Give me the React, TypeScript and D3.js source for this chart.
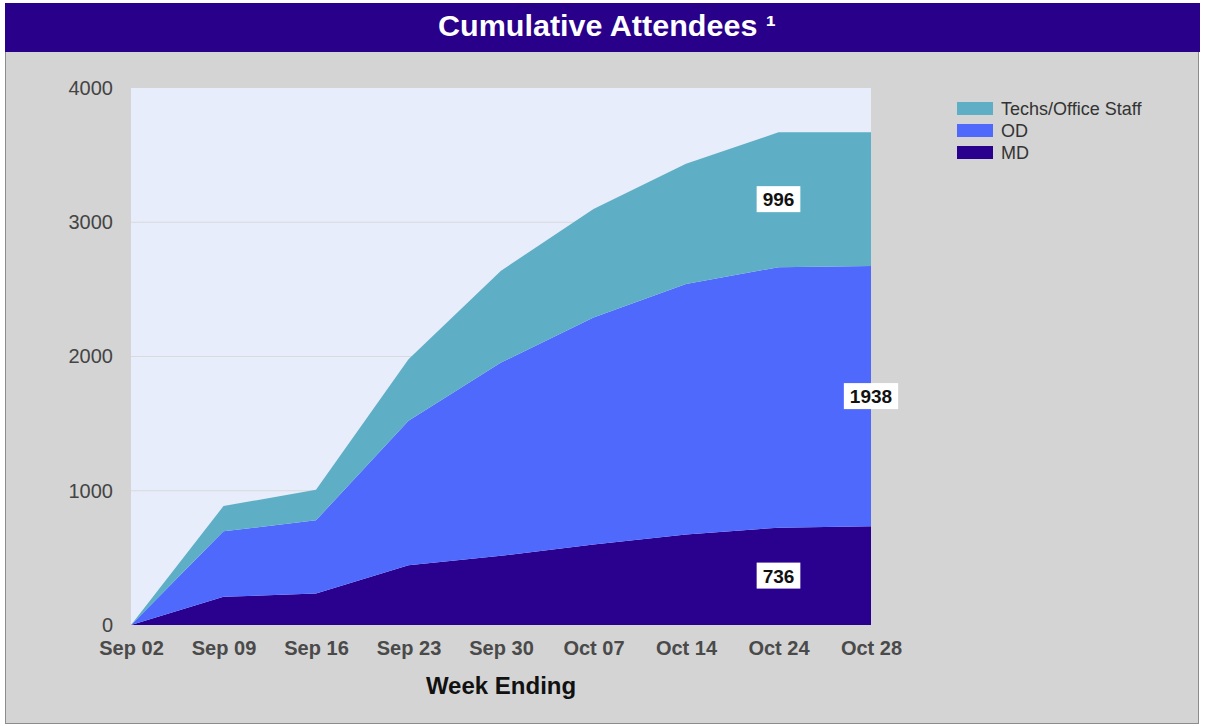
import React, { useEffect, useRef } from 'react';
import * as d3 from 'd3';

const weeks = ['Sep 02', 'Sep 09', 'Sep 16', 'Sep 23', 'Sep 30', 'Oct 07', 'Oct 14', 'Oct 24', 'Oct 28'];
const md = [0, 210, 235, 445, 515, 600, 675, 725, 736];
const od = [0, 488, 545, 1077, 1440, 1690, 1865, 1940, 1938];
const techs = [0, 188, 227, 458, 684, 809, 895, 1005, 996];
const seriesNames = ['MD', 'OD', 'Techs/Office Staff'];
const yTicks = [0, 1000, 2000, 3000, 4000];

const colors = {
  'MD': '#2a008e',
  'OD': '#4f69fd',
  'Techs/Office Staff': '#5eafc5',
};

const App = () => {
  const svgRef = useRef(null);

  useEffect(() => {
    const left = 131, right = 871, top = 88, bottom = 625;

    const svg = d3.select(svgRef.current);
    svg.selectAll('*').remove();

    // frame
    svg.append('rect')
      .attr('x', 5.5).attr('y', 3.5)
      .attr('width', 1193).attr('height', 720)
      .attr('fill', '#d4d4d4')
      .attr('stroke', '#8c8c8c');

    svg.append('rect')
      .attr('x', 5).attr('y', 3)
      .attr('width', 1195).attr('height', 49)
      .attr('fill', '#29008a');

    svg.append('text')
      .attr('x', 607).attr('y', 36)
      .attr('text-anchor', 'middle')
      .attr('fill', '#fff')
      .style('font', 'bold 29px "Liberation Sans", Arial, sans-serif')
      .attr('textLength', 338)
      .attr('lengthAdjust', 'spacingAndGlyphs')
      .text('Cumulative Attendees \u00b9');

    const x = d3.scalePoint().domain(weeks).range([left, right]);
    const y = d3.scaleLinear().domain([0, 4000]).range([bottom, top]);

    svg.append('rect')
      .attr('x', left).attr('y', top)
      .attr('width', right - left).attr('height', bottom - top)
      .attr('fill', '#e7edfa');

    svg.append('g')
      .selectAll('line')
      .data(yTicks.slice(1, -1))
      .enter()
      .append('line')
      .attr('x1', left).attr('x2', right)
      .attr('y1', d => y(d)).attr('y2', d => y(d))
      .attr('stroke', '#d9d9de');

    const rows = weeks.map((w, i) => ({ week: w, 'MD': md[i], 'OD': od[i], 'Techs/Office Staff': techs[i] }));
    const stack = d3.stack().keys(seriesNames);
    const layers = stack(rows);

    const area = d3.area()
      .x(d => x(d.data.week))
      .y0(d => y(d[0]))
      .y1(d => y(d[1]));

    svg.append('g')
      .selectAll('path')
      .data(layers)
      .enter()
      .append('path')
      .attr('d', area)
      .attr('fill', d => colors[d.key]);

    // value labels
    const labelSpots = [
      { key: 'MD', at: 7 },
      { key: 'OD', at: 8 },
      { key: 'Techs/Office Staff', at: 7 },
    ];
    const last = weeks.length - 1;
    labelSpots.forEach(s => {
      const layer = layers.find(l => l.key === s.key);
      const p = layer[last];
      const cx = x(weeks[s.at]);
      const cy = y((p[0] + p[1]) / 2);
      const val = p[1] - p[0];
      const g = svg.append('g');
      const t = g.append('text')
        .attr('x', cx).attr('y', cy + 7)
        .attr('text-anchor', 'middle')
        .attr('fill', '#111')
        .style('font', 'bold 19px "Liberation Sans", Arial, sans-serif')
        .text(val);
      const bb = t.node().getBBox();
      g.insert('rect', 'text')
        .attr('x', bb.x - 6).attr('y', cy - 13)
        .attr('width', bb.width + 12).attr('height', 26)
        .attr('fill', '#fff');
    });

    // axes
    const yAxis = svg.append('g')
      .attr('transform', `translate(${left - 18},0)`)
      .call(d3.axisLeft(y).tickValues(yTicks).tickSize(0).tickPadding(0).tickFormat(d3.format('d')));
    yAxis.select('.domain').remove();
    yAxis.selectAll('text')
      .attr('fill', '#444')
      .style('font', '20px "Liberation Sans", Arial, sans-serif');

    const xAxis = svg.append('g')
      .attr('transform', `translate(0,${bottom})`)
      .call(d3.axisBottom(x).tickSize(0).tickPadding(16));
    xAxis.select('.domain').remove();
    xAxis.selectAll('text')
      .attr('fill', '#4a4a4a')
      .style('font', 'bold 20px "Liberation Sans", Arial, sans-serif');

    svg.append('text')
      .attr('x', (left + right) / 2).attr('y', 694)
      .attr('text-anchor', 'middle')
      .attr('fill', '#111')
      .style('font', 'bold 24px "Liberation Sans", Arial, sans-serif')
      .text('Week Ending');

    // legend
    const legend = svg.append('g')
      .selectAll('g')
      .data(seriesNames.slice().reverse())
      .enter()
      .append('g')
      .attr('transform', (d, i) => `translate(957,${102 + i * 22})`);
    legend.append('rect')
      .attr('width', 36).attr('height', 13)
      .attr('fill', d => colors[d]);
    legend.append('text')
      .attr('x', 44).attr('y', 12.5)
      .attr('fill', '#333')
      .style('font', '18px "Liberation Sans", Arial, sans-serif')
      .text(d => d);
  }, []);

  return (
    <div style={{ position: 'absolute', left: 0, top: 0 }}>
      <svg ref={svgRef} width={1205} height={726} style={{ display: 'block' }}></svg>
    </div>
  );
};

export default App;
